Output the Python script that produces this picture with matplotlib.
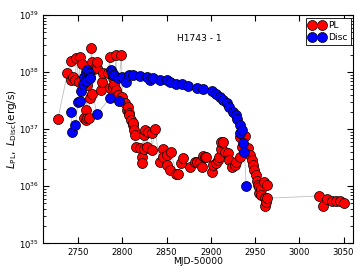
import numpy as np
import matplotlib
matplotlib.use("Agg")
import matplotlib.pyplot as plt

# MJD-50000 and log10 luminosity
pl_mjd = [2727, 2738, 2742, 2742, 2744, 2747, 2748, 2751, 2752, 2754, 2757, 2759,
          2759, 2760, 2760, 2762, 2763, 2765, 2766, 2766, 2768, 2771, 2771, 2776,
          2777, 2778, 2784, 2786, 2786, 2789, 2789, 2789, 2791, 2793, 2793, 2795,
          2799, 2800, 2803, 2805, 2806, 2808, 2808, 2810, 2812, 2812, 2813, 2814,
          2815, 2820, 2822, 2822, 2824, 2824, 2826, 2828, 2829, 2833, 2833, 2837,
          2842, 2846, 2846, 2850, 2851, 2854, 2855, 2861, 2863, 2866, 2869, 2876,
          2882, 2884, 2888, 2890, 2891, 2893, 2895, 2901, 2903, 2906, 2908, 2909,
          2912, 2912, 2914, 2916, 2919, 2921, 2924, 2927, 2929, 2933, 2933, 2935,
          2939, 2942, 2944, 2946, 2948, 2949, 2951, 2952, 2953, 2955, 2955, 2957,
          2957, 2960, 2961, 2961, 2962, 2963, 2963, 3022, 3027, 3031, 3037, 3041,
          3046, 3050]
pl_logl = [37.17, 37.98, 38.19, 37.86, 37.92, 37.86, 38.24, 37.83, 38.26, 38.15, 37.19, 37.16,
           37.33, 37.77, 37.19, 37.20, 37.54, 38.43, 38.18, 37.62, 38.06, 38.07, 38.18, 37.68,
           37.83, 37.98, 37.98, 38.27, 37.73, 37.89, 37.74, 37.60, 37.80, 38.30, 37.68, 37.60,
           38.30, 37.57, 37.45, 37.33, 37.39, 37.28, 37.25, 37.16, 37.07, 37.10, 36.98, 36.90,
           36.69, 36.67, 36.51, 36.41, 36.90, 36.65, 36.98, 36.68, 36.95, 36.93, 36.63, 37.00,
           36.43, 36.65, 36.51, 36.37, 36.54, 36.28, 36.60, 36.22, 36.21, 36.40, 36.50, 36.33,
           36.43, 36.43, 36.43, 36.33, 36.53, 36.51, 36.51, 36.25, 36.37, 36.40, 36.46, 36.51,
           36.65, 36.77, 36.77, 36.60, 36.58, 36.46, 36.34, 36.37, 36.43, 36.51, 36.87, 36.69,
           36.88, 36.67, 36.54, 36.46, 36.37, 36.28, 36.19, 36.10, 36.02, 35.98, 35.89, 35.96,
           35.84, 36.08, 35.79, 35.65, 35.72, 36.02, 35.79, 35.83, 35.65, 35.78, 35.74, 35.75,
           35.75, 35.71]

disc_mjd = [2742, 2743, 2747, 2750, 2752, 2753, 2755, 2757, 2759, 2759, 2760, 2762,
            2763, 2764, 2771, 2786, 2787, 2788, 2789, 2791, 2795, 2796, 2800, 2804,
            2808, 2812, 2820, 2828, 2831, 2835, 2842, 2850, 2854, 2861, 2867, 2874,
            2884, 2891, 2901, 2906, 2910, 2914, 2918, 2921, 2925, 2929, 2930, 2933,
            2933, 2935, 2936, 2938, 2940]
disc_logl = [37.30, 36.95, 37.07, 37.48, 37.50, 37.67, 37.80, 37.92, 38.00, 37.84, 38.03, 37.98,
             37.92, 37.89, 37.26, 37.54, 38.03, 38.00, 37.95, 37.95, 37.89, 37.50, 37.92, 37.83,
             37.95, 37.95, 37.93, 37.91, 37.87, 37.89, 37.86, 37.86, 37.83, 37.79, 37.79, 37.75,
             37.73, 37.70, 37.67, 37.61, 37.56, 37.51, 37.45, 37.39, 37.30, 37.25, 37.17, 37.07,
             36.94, 36.98, 36.76, 36.60, 36.00]

pl_l = 10 ** np.array(pl_logl)
disc_l = 10 ** np.array(disc_logl)

fig = plt.figure(figsize=(3.57, 2.68), dpi=100)
ax = fig.add_axes([0.1196, 0.092, 0.870, 0.852])

ax.plot(pl_mjd, pl_l, '-', color='0.75', lw=0.6, zorder=1)
ax.plot(disc_mjd, disc_l, '-', color='0.75', lw=0.6, zorder=1)
ax.plot(pl_mjd, pl_l, 'o', color='red', mec='black', mew=0.5, ms=7.2,
        label='PL', zorder=2)
ax.plot(disc_mjd, disc_l, 'o', color='blue', mec='black', mew=0.5, ms=7.2,
        label='Disc', zorder=3)

ax.set_yscale('log')
ax.set_xlim(2710, 3061)
ax.set_ylim(1e35, 1e39)
ax.set_xticks([2750, 2800, 2850, 2900, 2950, 3000, 3050])
ax.tick_params(which='both', direction='in', top=True, right=True, labelsize=6.1, pad=3)
ax.tick_params(which='major', length=4)
ax.tick_params(which='minor', length=2)

ax.set_xlabel('MJD-50000', fontsize=6.6, labelpad=0)
ax.set_ylabel(r'$L_{\rm PL},\ L_{\rm Disc}$(erg/s)', fontsize=7.5, labelpad=0)
ax.text(0.503, 0.895, 'H1743 - 1', transform=ax.transAxes, fontsize=6.6,
        ha='center', va='center')

leg = ax.legend(loc='upper right', numpoints=2, fontsize=6.6, fancybox=False,
                handlelength=1.6, handletextpad=0.4, borderpad=0.35,
                labelspacing=0.35, borderaxespad=0.3, framealpha=1)
leg.get_frame().set_edgecolor('black')
leg.get_frame().set_linewidth(0.6)

fig.savefig('out.png', dpi=100)
